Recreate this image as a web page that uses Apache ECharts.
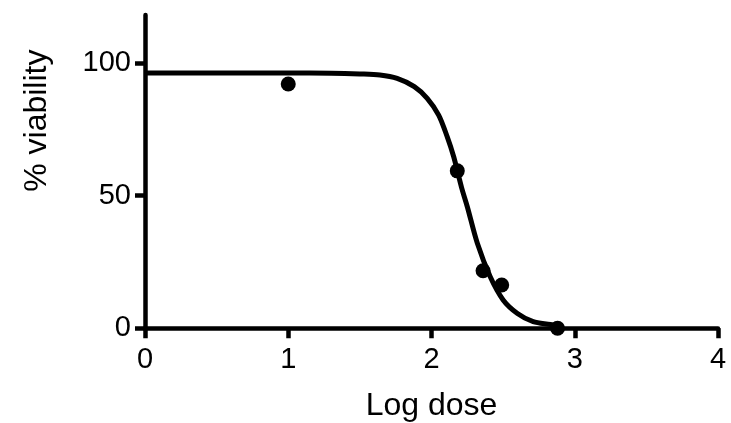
<!DOCTYPE html>
<html>
<head>
    <meta charset="utf-8">
    <title>Dose response</title>
    <script src="https://cdn.jsdelivr.net/npm/echarts@6/dist/echarts.min.js"></script>
    <style>
        html, body { margin: 0; padding: 0; background: #fff; }
        #chart { width: 731px; height: 423px; }
    </style>
</head>
<body>
    <div id="chart"></div>
    <script>
        // measured points
        var doseX = [1.0, 2.18, 2.36, 2.49, 2.88];
        var viability = [92, 59.3, 21.7, 16.3, 0];

        // fitted curve
        var curveX = [0, 0.5, 1.0, 1.3, 1.5, 1.64, 1.76, 1.88, 1.97, 2.05, 2.11, 2.155, 2.21, 2.25, 2.32, 2.41, 2.5, 2.6, 2.71, 2.83, 2.88];
        var curveY = [96.2, 96.2, 96.2, 96.1, 95.8, 95.4, 94.1, 91, 86.6, 80.3, 72.1, 64.6, 53, 45.8, 32, 19.4, 10.7, 5.6, 2.5, 1.4, 0.8];

        var yTicks = [0, 50, 100];

        var pts = doseX.map(function (x, i) { return [x, viability[i]]; });
        var curve = curveX.map(function (x, i) { return [x, curveY[i]]; });

        var chart = echarts.init(document.getElementById('chart'));
        var font = 'Liberation Sans, Arial, sans-serif';
        var axisLine = { show: true, lineStyle: { color: '#000', width: 4.5, cap: 'round' } };
        var axisTick = { show: true, inside: false, length: 10, lineStyle: { color: '#000', width: 4.5 } };

        chart.setOption({
            backgroundColor: '#fff',
            animation: false,
            grid: { left: 145, right: 13, top: 15, bottom: 94.7, containLabel: false, outerBoundsMode: 'none' },
            xAxis: {
                type: 'value',
                min: 0,
                max: 4,
                interval: 1,
                name: 'Log dose',
                nameLocation: 'middle',
                nameGap: 62,
                nameTextStyle: { fontFamily: font, fontSize: 32, color: '#000' },
                axisLine: axisLine,
                axisTick: axisTick,
                axisLabel: { fontFamily: font, fontSize: 29, color: '#000', margin: 17 },
                splitLine: { show: false }
            },
            yAxis: {
                type: 'value',
                min: 0,
                max: 118,
                name: '% viability',
                nameLocation: 'middle',
                nameGap: 92,
                nameRotate: 90,
                nameTextStyle: { fontFamily: font, fontSize: 32, color: '#000', padding: [0, 0, 0, 102] },
                axisLine: axisLine,
                axisTick: Object.assign({ customValues: yTicks }, axisTick),
                axisLabel: { fontFamily: font, fontSize: 29, color: '#000', margin: 14, customValues: yTicks },
                splitLine: { show: false }
            },
            series: [{
                type: 'line',
                data: curve,
                smooth: 0.3,
                showSymbol: false,
                lineStyle: { color: '#000', width: 5 },
                z: 3
            }, {
                type: 'scatter',
                data: pts,
                symbol: 'circle',
                symbolSize: 15,
                itemStyle: { color: '#000', opacity: 1 },
                z: 4
            }]
        });
    </script>
</body>
</html>
